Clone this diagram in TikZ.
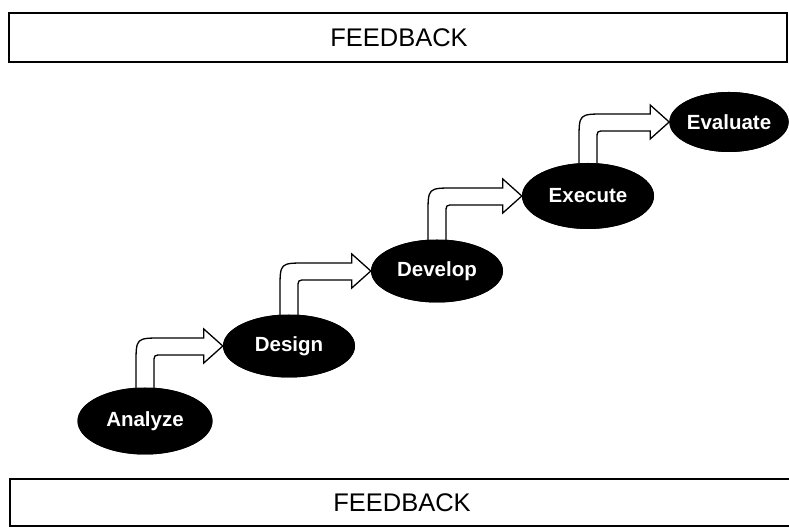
\documentclass[tikz,border=0pt]{standalone}
\usepackage{fontspec}
\setmainfont{Liberation Sans}
\usetikzlibrary{shapes.geometric,calc}

% hollow bent arrow from the top of one stage up and over to the next stage
\newcommand{\stepto}[2]{%
  \draw[steparrow] let \p1=(#1.center), \p2=(#2.west) in
    (\x1-9pt, \y1) -- (\x1-9pt, \y2-18pt)
    .. controls (\x1-9pt, \y2+8pt) .. (\x1+17pt, \y2+8pt)
    -- (\x2-19pt, \y2+8pt) -- (\x2-19pt, \y2+17pt) -- (\x2, \y2)
    -- (\x2-19pt, \y2-17pt) -- (\x2-19pt, \y2-9pt) -- (\x1+17pt, \y2-9pt)
    .. controls (\x1+9pt, \y2-9pt) .. (\x1+9pt, \y2-17pt)
    -- (\x1+9pt, \y1) -- cycle;
}

\begin{document}
\begin{tikzpicture}[x=1pt, y=1pt,
    stage/.style={ellipse, fill=black, text=white, inner sep=0pt,
      font=\fontsize{20.5}{22}\selectfont\bfseries},
    feedbackbox/.style={draw, line width=1.6pt},
    feedbacktext/.style={inner sep=0pt, font=\fontsize{25.5}{28}\selectfont},
    steparrow/.style={draw, line width=1.3pt, fill=white}]
  \useasboundingbox (0, 0) rectangle (789, 529);

  \draw[feedbackbox] (9, 467) rectangle (787, 516);
  \node[feedbacktext] (fbtop) at (399, 491.5) {FEEDBACK};
  % bottom bar runs off the right edge
  \draw[feedbackbox] (800, 50) -- (10, 50) -- (10, 3) -- (800, 3);
  \node[feedbacktext] (fbbottom) at (402, 26.5) {FEEDBACK};

  \node[stage, minimum width=135pt, minimum height=67pt] (analyze) at (145, 108) {Analyze};
  \node[stage, minimum width=132pt, minimum height=63pt] (design) at (289, 183) {Design};
  \node[stage, minimum width=132pt, minimum height=63pt] (develop) at (437, 258) {Develop};
  \node[stage, minimum width=132pt, minimum height=66pt] (execute) at (588, 333) {Execute};
  \node[stage, minimum width=118pt, minimum height=60pt] (evaluate) at (729, 407) {Evaluate};

  \stepto{analyze}{design}
  \stepto{design}{develop}
  \stepto{develop}{execute}
  \stepto{execute}{evaluate}

  % redraw the stages over the arrow ends
  \node[stage, minimum width=135pt, minimum height=67pt] at (analyze) {Analyze};
  \node[stage, minimum width=132pt, minimum height=63pt] at (design) {Design};
  \node[stage, minimum width=132pt, minimum height=63pt] at (develop) {Develop};
  \node[stage, minimum width=132pt, minimum height=66pt] at (execute) {Execute};
  \node[stage, minimum width=118pt, minimum height=60pt] at (evaluate) {Evaluate};
\end{tikzpicture}
\end{document}
